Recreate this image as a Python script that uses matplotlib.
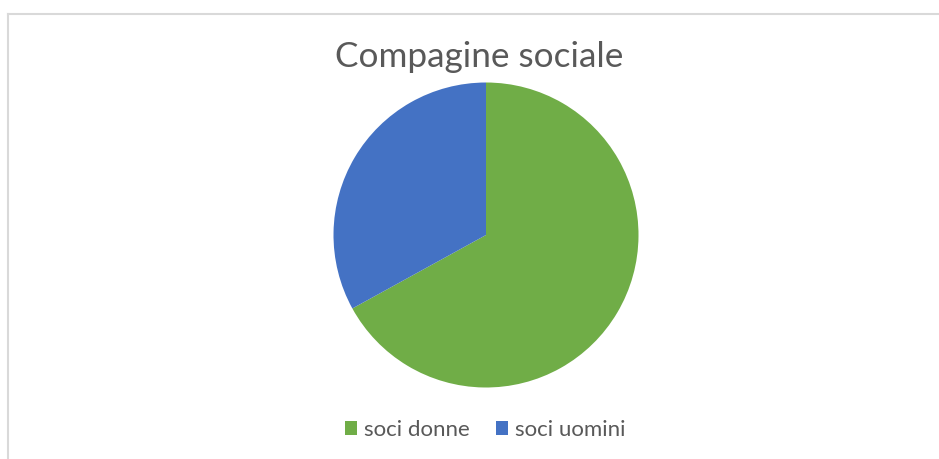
import matplotlib.pyplot as plt
from matplotlib.lines import Line2D
from matplotlib.patches import Patch

labels = ['soci donne', 'soci uomini']
values = [67, 33]
colors = ['#70AD47', '#4472C4']

W, H = 939, 459
fig = plt.figure(figsize=(W / 100, H / 100), dpi=100)

# chart frame (only top and left edges are inside the picture)
fig.add_artist(Line2D([8 / W, 1], [1 - 14 / H, 1 - 14 / H], color='#d9d9d9', lw=1.5,
                      transform=fig.transFigure))
fig.add_artist(Line2D([8 / W, 8 / W], [0, 1 - 14 / H], color='#d9d9d9', lw=1.5,
                      transform=fig.transFigure))

cx, cy, r = 486, 235, 152.5
ax = fig.add_axes([(cx - r) / W, (H - cy - r) / H, 2 * r / W, 2 * r / H])
ax.pie(values, colors=colors, startangle=90, counterclock=False, radius=1,
       wedgeprops=dict(linewidth=0))
ax.set_xlim(-1, 1)
ax.set_ylim(-1, 1)
ax.set_aspect('equal')
ax.axis('off')

fig.text(479 / W, 1 - 57 / H, 'Compagine sociale', ha='center', va='center',
         fontsize=25.3, color='#595959', family='Lato')

handles = [Patch(facecolor=c, edgecolor='none') for c in colors]
fig.legend(handles, labels, loc='center', bbox_to_anchor=(485 / W, 1 - 430 / H),
           ncol=2, frameon=False,
           prop={'family': 'Lato', 'size': 16}, labelcolor='#595959',
           handlelength=0.55, handleheight=0.55, handletextpad=0.3, columnspacing=1.2)

fig.savefig('out.png', dpi=100, facecolor='white')
